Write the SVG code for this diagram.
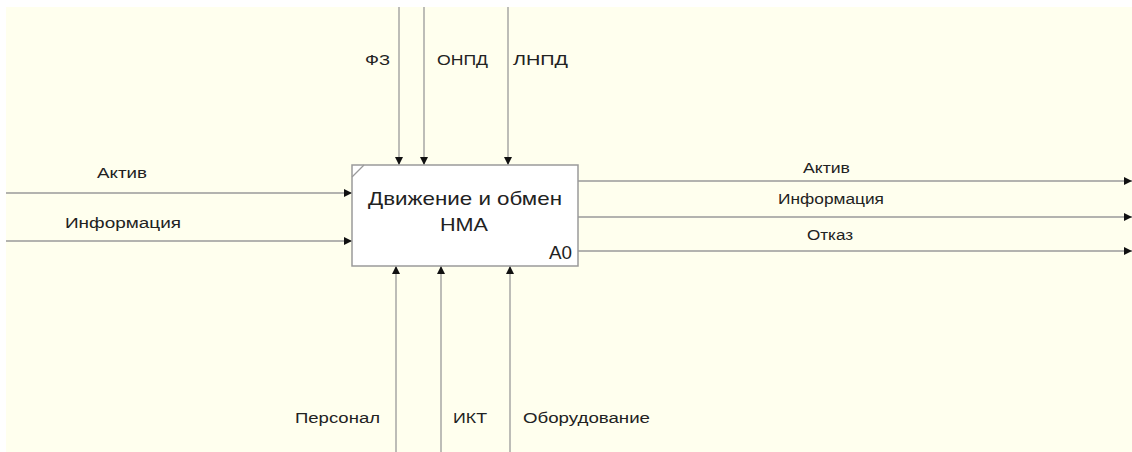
<svg xmlns="http://www.w3.org/2000/svg" width="1132" height="452" viewBox="0 0 1132 452">
<style>
.ln{stroke:#9a9a9a;stroke-width:1.3;fill:none}
.lbl{font-family:"Liberation Sans",Arial,sans-serif;font-size:14px;fill:#222}
.big{font-family:"Liberation Sans",Arial,sans-serif;font-size:19px;fill:#222}
</style>
<defs>
<marker id="ah" viewBox="0 0 10 10" refX="10" refY="5" markerWidth="8" markerHeight="8" markerUnits="userSpaceOnUse" orient="auto">
<path d="M0,0 L10,5 L0,10 z" fill="#111"/>
</marker>
</defs>
<rect width="1132" height="452" fill="#ffffff"/>
<rect x="6" y="7" width="1126" height="445" fill="#ffffee"/>
<g id="connectors">
<line class="ln" x1="399" y1="7" x2="399" y2="165" marker-end="url(#ah)"/>
<line class="ln" x1="424" y1="7" x2="424" y2="165" marker-end="url(#ah)"/>
<line class="ln" x1="508" y1="7" x2="508" y2="165" marker-end="url(#ah)"/>
<line class="ln" x1="6" y1="193" x2="352" y2="193" marker-end="url(#ah)"/>
<line class="ln" x1="6" y1="241" x2="352" y2="241" marker-end="url(#ah)"/>
<line class="ln" x1="578" y1="181" x2="1132" y2="181" marker-end="url(#ah)"/>
<line class="ln" x1="578" y1="217" x2="1132" y2="217" marker-end="url(#ah)"/>
<line class="ln" x1="578" y1="251" x2="1132" y2="251" marker-end="url(#ah)"/>
<line class="ln" x1="396" y1="452" x2="396" y2="266" marker-end="url(#ah)"/>
<line class="ln" x1="441" y1="452" x2="441" y2="266" marker-end="url(#ah)"/>
<line class="ln" x1="510" y1="452" x2="510" y2="266" marker-end="url(#ah)"/>
<text class="lbl" x="365" y="65" textLength="25" lengthAdjust="spacingAndGlyphs">ФЗ</text>
<text class="lbl" x="437" y="65" textLength="51" lengthAdjust="spacingAndGlyphs">ОНПД</text>
<text class="lbl" x="513" y="65" textLength="55" lengthAdjust="spacingAndGlyphs">ЛНПД</text>
<text class="lbl" x="97" y="178" textLength="50" lengthAdjust="spacingAndGlyphs">Актив</text>
<text class="lbl" x="65" y="228" textLength="116" lengthAdjust="spacingAndGlyphs">Информация</text>
<text class="lbl" x="803" y="173" textLength="47" lengthAdjust="spacingAndGlyphs">Актив</text>
<text class="lbl" x="778" y="204" textLength="106" lengthAdjust="spacingAndGlyphs">Информация</text>
<text class="lbl" x="807" y="240" textLength="46" lengthAdjust="spacingAndGlyphs">Отказ</text>
<text class="lbl" x="295" y="423" textLength="85" lengthAdjust="spacingAndGlyphs">Персонал</text>
<text class="lbl" x="453" y="423" textLength="34" lengthAdjust="spacingAndGlyphs">ИКТ</text>
<text class="lbl" x="523" y="423" textLength="127" lengthAdjust="spacingAndGlyphs">Оборудование</text>
</g>
<g id="A0">
<rect x="352" y="165" width="226" height="101" fill="#ffffff" stroke="#9a9a9a" stroke-width="1.5"/>
<path d="M352,177 L364,165" class="ln"/>
<text class="big" x="368" y="205" textLength="194" lengthAdjust="spacingAndGlyphs">Движение и обмен</text>
<text class="big" x="440" y="231" textLength="48" lengthAdjust="spacingAndGlyphs">НМА</text>
<text class="big" x="549" y="259" textLength="23" lengthAdjust="spacingAndGlyphs">A0</text>
</g>
</svg>
